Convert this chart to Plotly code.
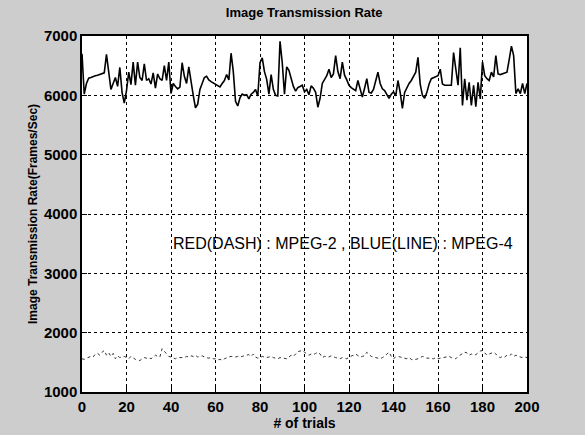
import plotly.graph_objects as go

trials = list(range(0, 201))

mpeg4 = [
    6700, 6020, 6200, 6290, 6300, 6320, 6330, 6340, 6350, 6360,
    6380, 6690, 6360, 6100, 6200, 6300, 6150, 6470, 6050, 5870,
    6080, 6390, 6180, 6560, 6170, 6560, 6300, 6250, 6530, 6250,
    6280, 6190, 6380, 6120, 6360, 6280, 6250, 6500, 6250, 6560,
    6030, 6200, 6150, 6110, 6140, 6550, 6320, 6200, 6480, 6220,
    6000, 5790, 5850, 6100, 6220, 6300, 6320, 6260, 6230, 6210,
    6180, 6170, 6140, 6200, 6250, 6350, 6260, 6710, 6400, 5900,
    5820, 5960, 6020, 6000, 6010, 5940, 6020, 6050, 6100, 5990,
    6550, 6630, 6400, 6270, 6020, 6350, 6100, 6000, 5990, 6910,
    6550, 6020, 6480, 6420, 6270, 6150, 6070, 6130, 6150, 6170,
    6060, 6100, 6010, 6160, 6120, 6050, 5800, 5950, 6200, 6280,
    6330, 6440, 6300, 6360, 6670, 6400, 6280, 6560, 6340, 6260,
    6170, 6130, 6110, 6080, 6250, 6100, 5970, 6120, 6280, 6050,
    6040, 6100, 6250, 6390, 6200, 6110, 6080, 6000, 5950, 6020,
    6060, 5990, 6250, 6050, 5780, 6050, 6130, 6200, 6250, 6330,
    6390, 6640, 6190, 6000, 5950, 6050, 6190, 6280, 6300, 6320,
    6330, 6440, 6190, 6170, 6170, 6170, 6170, 6720, 6390, 6170,
    6800, 5830, 6280, 5920, 6220, 5830, 6170, 5810, 6220, 5940,
    6560, 6330, 6280, 6250, 6390, 6310, 6670, 6360, 6350, 6360,
    6370, 6390, 6600, 6830, 6670, 6030, 6110, 6030, 6200, 6030,
    6200,
]

mpeg2 = [
    1560, 1550, 1570, 1580, 1600, 1590, 1640, 1650, 1620, 1670,
    1700, 1620, 1660, 1600, 1650, 1560, 1610, 1580, 1590, 1600,
    1580, 1560, 1600, 1570, 1550, 1540, 1530, 1560, 1580, 1570,
    1580, 1560, 1590, 1620, 1600, 1590, 1730, 1680, 1650, 1600,
    1590, 1570, 1560, 1580, 1580, 1590, 1580, 1600, 1590, 1610,
    1600, 1620, 1590, 1600, 1610, 1590, 1580, 1570, 1580, 1560,
    1560, 1540, 1550, 1535, 1560, 1580, 1590, 1600, 1590, 1590,
    1600, 1590, 1600, 1610, 1620, 1630, 1600, 1640, 1590, 1570,
    1580, 1600, 1590, 1580, 1590, 1600, 1580, 1570, 1560, 1580,
    1570, 1570, 1560, 1590, 1620, 1600, 1640, 1680, 1690, 1700,
    1670, 1650, 1620, 1640, 1630, 1650, 1670, 1640, 1580, 1600,
    1600, 1590, 1610, 1590, 1580, 1570, 1560, 1580, 1570, 1560,
    1590, 1600, 1620, 1640, 1620, 1590, 1600, 1610, 1670, 1630,
    1600, 1590, 1580, 1570, 1560, 1580, 1600, 1640, 1670, 1600,
    1560, 1590, 1600, 1590, 1580, 1570, 1560, 1580, 1550, 1540,
    1545, 1560, 1580, 1600, 1590, 1570, 1570, 1560, 1560, 1580,
    1560, 1570, 1580, 1590, 1590, 1600, 1580, 1570, 1560, 1600,
    1620, 1650, 1670, 1660, 1620, 1640, 1620, 1630, 1660, 1690,
    1700, 1650, 1620, 1640, 1660, 1670, 1640, 1600, 1580, 1600,
    1590, 1620, 1610, 1640, 1600, 1620, 1600, 1590, 1580, 1590,
    1580,
]

x_ticks = [0, 20, 40, 60, 80, 100, 120, 140, 160, 180, 200]
y_ticks = [1000, 2000, 3000, 4000, 5000, 6000, 7000]

title_text = "Image Transmission Rate"
x_label = "# of trials"
y_label = "Image Transmission Rate(Frames/Sec)"
note_text = "RED(DASH) : MPEG-2 , BLUE(LINE) : MPEG-4"

FONT = "Liberation Sans, Arial"

fig = go.Figure()
fig.add_trace(go.Scatter(x=trials, y=mpeg2, mode="lines",
                         line=dict(color="#333333", width=1, dash="3px,3px"),
                         name="MPEG-2"))
fig.add_trace(go.Scatter(x=trials, y=mpeg4, mode="lines",
                         line=dict(color="#000000", width=1.6),
                         name="MPEG-4"))

fig.add_annotation(x=40, y=3500, text=note_text, showarrow=False,
                   xanchor="left", yanchor="middle",
                   font=dict(family=FONT, size=16, color="#000"))

axis_common = dict(showline=True, linecolor="#000", linewidth=1.5, mirror=True,
                   ticks="inside", ticklen=5, tickcolor="#000",
                   showgrid=True, gridcolor="#000", gridwidth=1.2, griddash="3px,3px",
                   zeroline=False, automargin=False,
                   tickfont=dict(family=FONT, size=15, color="#000", weight="bold"))

fig.update_xaxes(range=[0, 200], tickvals=x_ticks, **axis_common,
                 title=dict(text=x_label, standoff=0,
                            font=dict(family=FONT, size=14, color="#000", weight="bold")))
fig.update_yaxes(range=[1000, 7000], tickvals=y_ticks, **axis_common,
                 title=dict(text=y_label, standoff=4,
                            font=dict(family=FONT, size=12, color="#000", weight="bold")))

fig.update_layout(
    width=585, height=435,
    margin=dict(l=82, r=58, t=36, b=43),
    paper_bgcolor="#cdcdcd",
    plot_bgcolor="#ffffff",
    showlegend=False,
    title=dict(text=title_text, x=0.52, xanchor="center", y=0.972, yanchor="middle",
               font=dict(family=FONT, size=13, color="#000", weight="bold")),
)

fig.write_html("out.html", config={"displayModeBar": False},
               post_script="document.body.style.margin='0';document.body.style.overflow='hidden';")
